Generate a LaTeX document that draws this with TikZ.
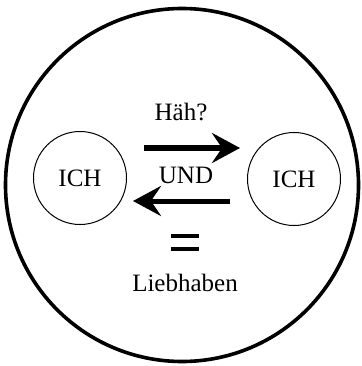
\documentclass[tikz,border=0pt]{standalone}
\usepackage{fontspec}
\setmainfont{Liberation Serif}
\usetikzlibrary{arrows.meta}
\begin{document}
\begin{tikzpicture}[x=1pt,y=-1pt,
  every node/.style={font=\fontsize{25}{29}\selectfont, inner sep=0pt},
  outer/.style={draw, line width=3.6pt},
  person/.style={draw, circle, line width=1pt, minimum size=93pt},
  bigarrow/.style={line width=5pt, -{Stealth[length=28pt,width=30pt,inset=10pt]}},
  bar/.style={line width=4.5pt}]
  \useasboundingbox (0,0) rectangle (361,366);
  % enclosing circle
  \draw[outer] (182,185) circle[radius=176.5];
  % the two partners
  \node[person] (left) at (80,178) {ICH};
  \node[person] (right) at (294,179) {ICH};
  % labels
  \node (haeh) at (181,112) {Häh?};
  \node (und) at (186,175) {UND};
  \node (lieb) at (185,283) {Liebhaben};
  % arrows between the partners
  \coordinate (a1s) at (144,148);
  \coordinate (a1e) at (240,148);
  \coordinate (a2s) at (230,201);
  \coordinate (a2e) at (133,201);
  \draw[bigarrow] (a1s) -- (a1e);
  \draw[bigarrow] (a2s) -- (a2e);
  % equals sign
  \coordinate (e1) at (171,236);
  \coordinate (e2) at (199,236);
  \coordinate (e3) at (171,249);
  \coordinate (e4) at (199,249);
  \draw[bar] (e1) -- (e2);
  \draw[bar] (e3) -- (e4);
\end{tikzpicture}
\end{document}
